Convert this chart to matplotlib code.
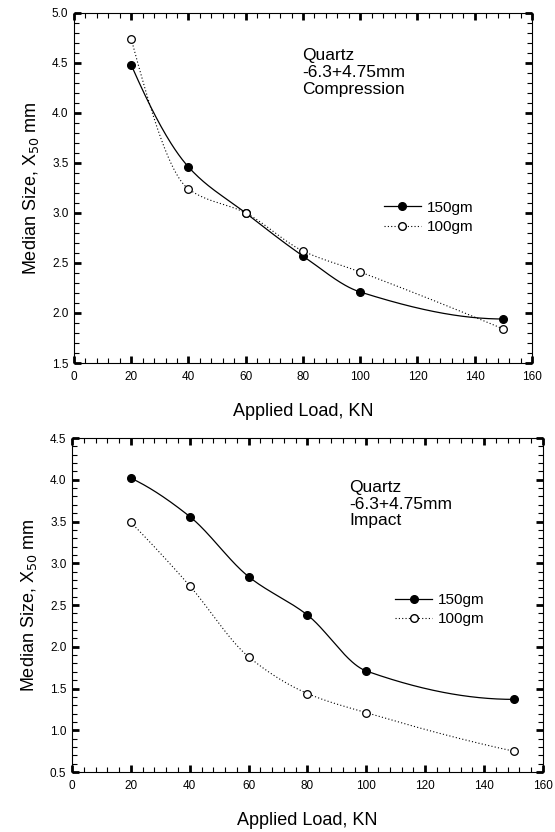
import matplotlib
matplotlib.use("Agg")
import matplotlib.pyplot as plt
import numpy as np
from matplotlib.ticker import MultipleLocator

plt.rcParams['font.family'] = ['Liberation Sans', 'DejaVu Sans']

load = [20, 40, 60, 80, 100, 150]

# compression test
comp_150 = [4.48, 3.46, 3.00, 2.57, 2.21, 1.94]
comp_100 = [4.74, 3.24, 3.00, 2.62, 2.41, 1.84]

# impact test
imp_150 = [4.02, 3.56, 2.84, 2.38, 1.71, 1.37]
imp_100 = [3.49, 2.73, 1.88, 1.44, 1.21, 0.75]


def smooth(x, y, n=300):
    # monotone cubic (pchip) for the drawn line only
    x = np.asarray(x, float)
    y = np.asarray(y, float)
    h = np.diff(x)
    d = np.diff(y) / h
    m = np.zeros_like(y)
    for i in range(1, len(x) - 1):
        if d[i - 1] * d[i] > 0:
            w1 = 2 * h[i] + h[i - 1]
            w2 = h[i] + 2 * h[i - 1]
            m[i] = (w1 + w2) / (w1 / d[i - 1] + w2 / d[i])
    m[0] = ((2 * h[0] + h[1]) * d[0] - h[0] * d[1]) / (h[0] + h[1])
    if np.sign(m[0]) != np.sign(d[0]):
        m[0] = 0
    m[-1] = ((2 * h[-1] + h[-2]) * d[-1] - h[-1] * d[-2]) / (h[-1] + h[-2])
    if np.sign(m[-1]) != np.sign(d[-1]):
        m[-1] = 0
    xs = np.linspace(x[0], x[-1], n)
    i = np.clip(np.searchsorted(x, xs) - 1, 0, len(x) - 2)
    t = (xs - x[i]) / h[i]
    h00 = 2 * t**3 - 3 * t**2 + 1
    h10 = t**3 - 2 * t**2 + t
    h01 = -2 * t**3 + 3 * t**2
    h11 = t**3 - t**2
    ys = h00 * y[i] + h10 * h[i] * m[i] + h01 * y[i + 1] + h11 * h[i] * m[i + 1]
    return xs, ys


def panel(ax, y150, y100, ylim, note):
    xs, ys = smooth(load, y150)
    ax.plot(xs, ys, color='black', lw=0.9)
    xs, ys = smooth(load, y100)
    ax.plot(xs, ys, color='black', lw=0.8, ls=(0, (1, 2)))
    ax.plot(load, y150, 'o', color='black', ms=5.5)
    ax.plot(load, y100, 'o', mfc='white', mec='black', mew=0.9, ms=5.5)
    # legend handles
    ax.plot([], [], '-o', color='black', lw=0.9, ms=5.5, label='150gm')
    ax.plot([], [], 'o', ls=(0, (1, 2)), color='black', mfc='white', lw=0.8, ms=5.5, label='100gm')

    ax.set_xlim(0, 160)
    ax.set_ylim(*ylim)
    ax.xaxis.set_major_locator(MultipleLocator(20))
    ax.xaxis.set_minor_locator(MultipleLocator(4))
    ax.yaxis.set_major_locator(MultipleLocator(0.5))
    ax.yaxis.set_minor_locator(MultipleLocator(0.1))
    ax.yaxis.set_major_formatter(matplotlib.ticker.FormatStrFormatter('%.1f'))
    ax.tick_params(which='both', direction='in', top=True, right=True, labelsize=8.5)
    ax.tick_params(which='major', length=5, width=2)
    ax.tick_params(which='minor', length=3.5, width=0.8)
    ax.tick_params(axis='x', pad=6)
    ax.tick_params(axis='y', pad=4)
    for s in ax.spines.values():
        s.set_linewidth(0.8)
    ax.set_xlabel('Applied Load, KN', fontsize=13, labelpad=14)
    ax.set_ylabel('Median Size, X$_{50}$ mm', fontsize=13, labelpad=8)
    ax.text(note[0], note[1], note[2], transform=ax.transAxes, fontsize=12.5,
            va='top', ha='left', linespacing=1.15)
    ax.legend(loc='upper left', bbox_to_anchor=note[3], frameon=False, fontsize=11,
              handlelength=2.4, handletextpad=0.4, labelspacing=0.35, borderpad=0)


fig = plt.figure(figsize=(5.55, 8.32), dpi=100)
ax1 = fig.add_axes([0.1333, 0.5637, 0.8252, 0.4207])
ax2 = fig.add_axes([0.1297, 0.0721, 0.8486, 0.4014])

panel(ax1, comp_150, comp_100, (1.5, 5.0),
      (0.499, 0.9, 'Quartz\n-6.3+4.75mm\nCompression', (0.66, 0.486)))
panel(ax2, imp_150, imp_100, (0.5, 4.5),
      (0.589, 0.875, 'Quartz\n-6.3+4.75mm\nImpact', (0.67, 0.559)))

fig.savefig('out.png', dpi=100)
